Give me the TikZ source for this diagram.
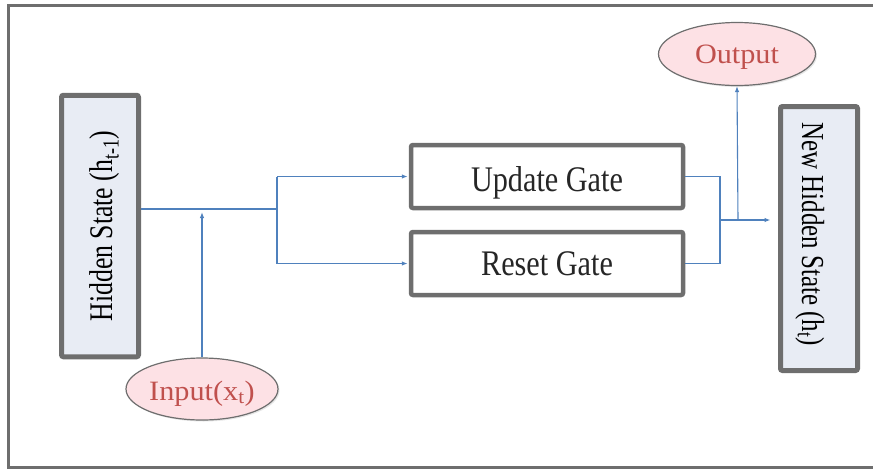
\documentclass[tikz,border=0pt]{standalone}
\usepackage{fontspec}
\setmainfont{Liberation Serif}
\usetikzlibrary{arrows.meta,shapes.geometric,shadows}

\definecolor{frameGray}{HTML}{6E6E6E}
\definecolor{stateFill}{HTML}{E8ECF4}
\definecolor{pinkFill}{HTML}{FDE1E5}
\definecolor{labelRed}{HTML}{C0504D}
\definecolor{wireBlue}{HTML}{4F81BD}

% label with its baseline set #2 below the node centre, width scaled by #1
\newcommand{\lbl}[3][1]{\smash{\raisebox{-#2}{\scalebox{#1}[1]{#3}}}}

\begin{document}
\begin{tikzpicture}[x=1pt,y=-1pt,
  statebox/.style={draw=frameGray, line width=5pt, fill=stateFill,
    rounded corners=2pt, inner sep=0pt, minimum height=77pt,
    font=\fontsize{33}{38}\selectfont},
  gatebox/.style={draw=frameGray, line width=4.5pt, fill=white,
    rounded corners=2pt, minimum width=272pt, minimum height=63pt,
    inner sep=0pt, font=\fontsize{36}{40}\selectfont, text=black!85},
  oval/.style={ellipse, draw=frameGray, line width=1.2pt, fill=pinkFill,
    inner sep=0pt, font=\fontsize{28}{32}\selectfont, text=labelRed,
    drop shadow={opacity=0.2, shadow xshift=1.5pt, shadow yshift=-1.5pt}},
  wire/.style={draw=wireBlue, line width=1.1pt},
  tip/.style={-{Latex[length=6pt,width=4.5pt]}}]

\useasboundingbox (0,0) rectangle (873,472);
\clip (0,0) rectangle (873,472);

% outer frame (open on the right)
\draw[frameGray, line width=3pt] (8.5,5.5) rectangle (900,467.5);

% state boxes
\node[statebox, rotate=90, minimum width=261.5pt]
  (hid) at (100,226) {\lbl[0.78]{12pt}{Hidden State (h\textsubscript{t-1})}\hspace*{0pt}};
\node[statebox, rotate=-90, minimum width=264pt, font=\fontsize{32}{38}\selectfont]
  (nhs) at (819,238.5) {\lbl[0.78]{17pt}{New Hidden State (h\textsubscript{t})}\hspace*{9pt}};

% gates
\node[gatebox] (upd) at (547,176.5) {\lbl[0.84]{15pt}{Update Gate}};
\node[gatebox] (rst) at (547,263.5) {\lbl[0.84]{12pt}{Reset Gate}};

% input and output
\node[oval, minimum width=152pt, minimum height=62pt] (inp) at (202,389)
  {\lbl[1.08]{11pt}{Input(x\textsubscript{t})}};
\node[oval, minimum width=157pt, minimum height=63pt] (out) at (737,54)
  {\lbl[1.08]{9.5pt}{Output}};

% junction points
\coordinate (jl) at (277,209);
\coordinate (ji) at (202,212);
\coordinate (jr) at (720,220);
\coordinate (jo) at (738,220);

% left side wiring
\draw[wire] (hid.south |- jl) -- (jl);
\draw[wire, tip] (inp.north) -- (ji);
\draw[wire] (jl |- upd.west) -- (jl |- rst.west);
\draw[wire, tip] (jl |- upd.west) -- ([xshift=-1pt]upd.west);
\draw[wire, tip] (jl |- rst.west) -- ([xshift=-1pt]rst.west);

% right side wiring
\draw[wire] (upd.east) -| (jr) |- (rst.east);
\draw[wire, tip] (jr) -- ([xshift=-7.5pt]nhs.south |- jr);
\draw[wire, tip] (jo) -- (out.south);

\end{tikzpicture}
\end{document}
